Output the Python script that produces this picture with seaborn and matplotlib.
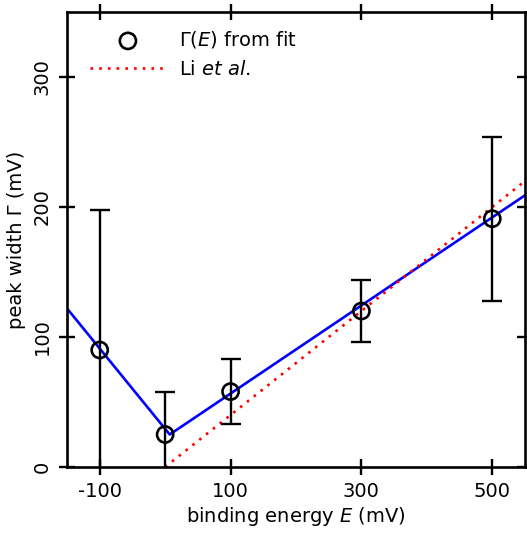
import numpy as np
import pandas as pd
import seaborn as sns
import matplotlib.pyplot as plt

# valeurs
energy = [-100, 0, 100, 300, 500]
width = [90, 25, 58, 120, 191]
width_err = [108, 33, 25, 24, 63]

# ajustement Γ(E) (bleu) et Li et al. (rouge)
fit_x = [-150, 7, 550]
fit_y = [122, 25, 209]
li_x = [0, 550]
li_y = [0, 220]

sns.set_style("ticks")
plt.rcParams['font.family'] = ['DejaVu Sans']
plt.rcParams['mathtext.default'] = 'regular'
plt.rcParams['axes.unicode_minus'] = False
plt.rcParams['font.size'] = 14
plt.rcParams['text.color'] = 'black'
plt.rcParams['axes.labelcolor'] = 'black'

fig = plt.figure(figsize=(5.27, 5.37), dpi=100)
ax = fig.add_axes([67/527, 1-467/537, 458/527, 455/537])

sns.lineplot(x=fit_x, y=fit_y, color='blue', lw=1.9, ax=ax)
sns.lineplot(x=li_x, y=li_y, color='red', lw=1.9, ax=ax,
             linestyle=(0, (1, 2.3)), label='Li $\\mathit{et\\ al.}$')
ax.errorbar(energy, width, yerr=width_err, fmt='none', ecolor='black',
            elinewidth=1.7, capsize=7, capthick=1.7, zorder=3)
df = pd.DataFrame({'E': energy, 'G': width})
sns.scatterplot(data=df, x='E', y='G', ax=ax, marker='o', s=135,
                facecolor='none', edgecolor='black', linewidth=1.9, zorder=4,
                label='$\\Gamma(\\mathit{E})$ from fit')

ax.set_xlim(-150, 550)
ax.set_ylim(0, 350)
ax.set_xticks([-100, 100, 300, 500])
ax.set_yticks([0, 100, 200, 300])
ax.set_yticklabels(['0', '100', '200', '300'], rotation=90, va='center')
ax.tick_params(axis='both', which='both', direction='inout', length=12, width=1.7,
               top=True, right=True, labelsize=14, colors='black', pad=5)
for s in ax.spines.values():
    s.set_linewidth(1.9)
    s.set_color('black')

ax.set_xlabel('binding energy $\\mathit{E}$ (mV)', fontsize=14, labelpad=3)
ax.set_ylabel('peak width Γ (mV)', fontsize=14, labelpad=5)

h, l = ax.get_legend_handles_labels()
ax.legend(h[::-1], l[::-1], loc='upper left', bbox_to_anchor=(0.012, 1.0),
          frameon=False, fontsize=14, handlelength=3.9, handletextpad=0.7,
          labelspacing=0.5)

fig.savefig('out.png', dpi=100)
